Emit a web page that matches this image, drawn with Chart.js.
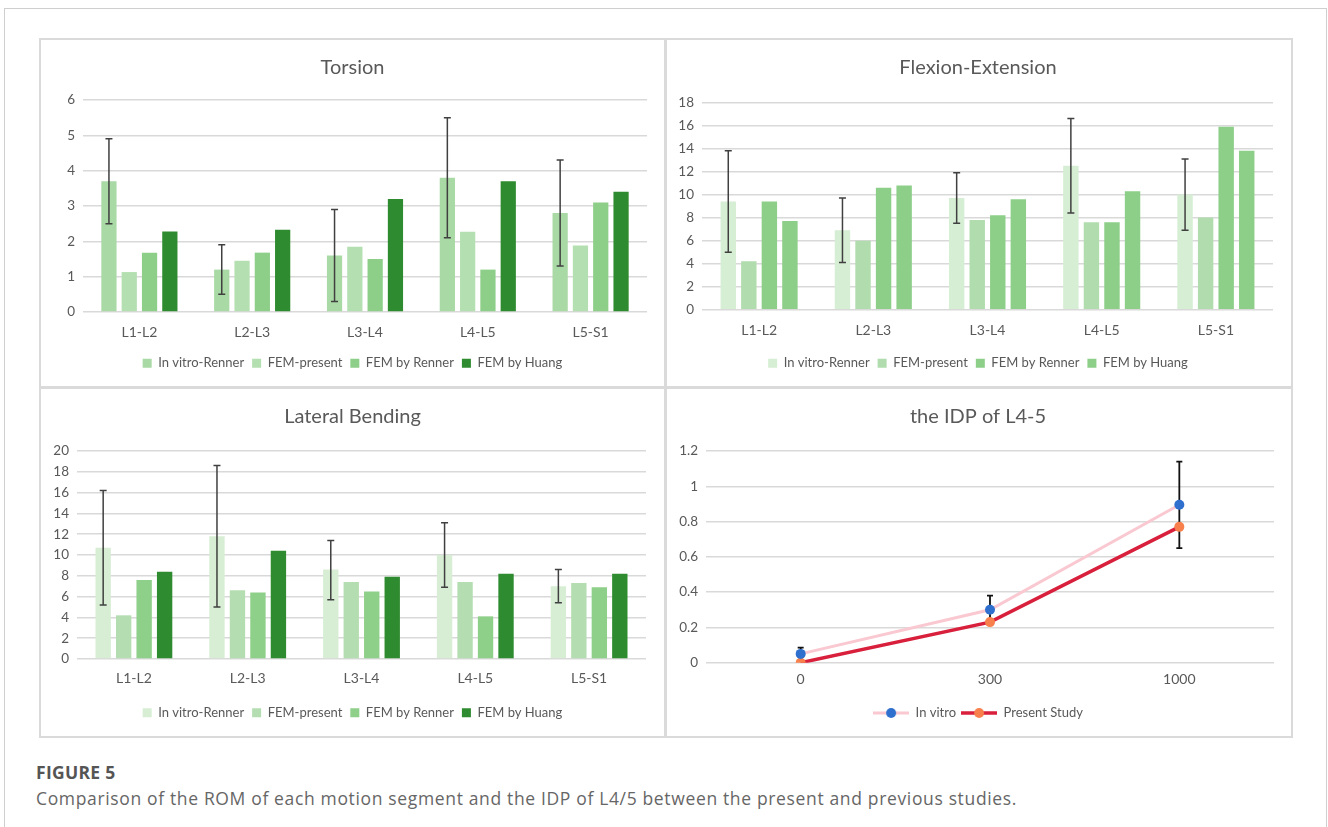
<!DOCTYPE html>
<html>
<head>
<meta charset="utf-8">
<script src="https://cdn.jsdelivr.net/npm/chart.js@4.4.1/dist/chart.umd.min.js"></script>
<style>
  html, body { margin: 0; padding: 0; background: #fff; width: 1328px; height: 827px; overflow: hidden; }
  .frame { position: absolute; left: 4px; top: 8px; width: 1323px; height: 900px; border: 1px solid #cfcfcf; box-sizing: border-box; }
  canvas { position: absolute; }
  .rule { position: absolute; background: #dadada; }
  .cap { position: absolute; left: 36px; font-family: "Open Sans", sans-serif; white-space: nowrap; }
  .cap.head { top: 760px; font-size: 17.5px; font-weight: 700; color: #555; line-height: 24px; letter-spacing: 0.3px; }
  .cap.body { top: 786px; font-size: 17.5px; color: #666; line-height: 24px; letter-spacing: 0.65px; }
</style>
</head>
<body>
<div class="frame"></div>

<canvas id="torsion" width="625" height="348" style="left:40px;top:39px"></canvas>
<canvas id="flexion" width="626" height="348" style="left:665px;top:39px"></canvas>
<canvas id="lateral" width="625" height="350" style="left:40px;top:387px"></canvas>
<canvas id="idp" width="626" height="350" style="left:665px;top:387px"></canvas>

<!-- panel frame and dividers -->
<div class="rule" style="left:39px;top:38px;width:1254px;height:2px"></div>
<div class="rule" style="left:39px;top:736px;width:1254px;height:2px"></div>
<div class="rule" style="left:39px;top:38px;width:2px;height:700px"></div>
<div class="rule" style="left:1291px;top:38px;width:2px;height:700px"></div>
<div class="rule" style="left:664px;top:38px;width:3px;height:700px"></div>
<div class="rule" style="left:39px;top:386px;width:1254px;height:3px"></div>

<div class="cap head">FIGURE 5</div>
<div class="cap body">Comparison of the ROM of each motion segment and the IDP of L4/5 between the present and previous studies.</div>

<script>
// Motion segments and series
const segments = ['L1-L2', 'L2-L3', 'L3-L4', 'L4-L5', 'L5-S1'];
const seriesNames = ['In vitro-Renner', 'FEM-present', 'FEM by Renner', 'FEM by Huang'];

// Torsion ROM
const torsionInVitro   = [3.7, 1.2, 1.6, 3.8, 2.8];
const torsionFemPresent = [1.13, 1.45, 1.85, 2.27, 1.88];
const torsionFemRenner = [1.68, 1.68, 1.5, 1.2, 3.1];
const torsionFemHuang  = [2.28, 2.33, 3.2, 3.7, 3.4];
const torsionErrLow    = [2.5, 0.5, 0.3, 2.1, 1.3];
const torsionErrHigh   = [4.9, 1.9, 2.9, 5.5, 4.3];

// Flexion-extension ROM
const flexionInVitro   = [9.4, 6.9, 9.7, 12.5, 10.0];
const flexionFemPresent = [4.2, 6.0, 7.8, 7.6, 8.0];
const flexionFemRenner = [9.4, 10.6, 8.2, 7.6, 15.9];
const flexionFemHuang  = [7.7, 10.8, 9.6, 10.3, 13.8];
const flexionErrLow    = [5.0, 4.1, 7.5, 8.4, 6.9];
const flexionErrHigh   = [13.8, 9.7, 11.9, 16.6, 13.1];

// Lateral bending ROM
const lateralInVitro   = [10.7, 11.8, 8.6, 10.0, 7.0];
const lateralFemPresent = [4.2, 6.6, 7.4, 7.4, 7.3];
const lateralFemRenner = [7.6, 6.4, 6.5, 4.1, 6.9];
const lateralFemHuang  = [8.4, 10.4, 7.9, 8.2, 8.2];
const lateralErrLow    = [5.2, 5.0, 5.7, 6.9, 5.4];
const lateralErrHigh   = [16.2, 18.6, 11.4, 13.1, 8.6];

// Intradiscal pressure of L4-5
const loads = ['0', '300', '1000'];
const idpNames = ['In vitro', 'Present Study'];
const idpInVitro = [0.05, 0.30, 0.895];
const idpPresent = [0, 0.23, 0.77];
const idpInVitroSd = [0.035, 0.08, 0.245];

const TEXT = '#595959';
const GRID = '#d9d9d9';
Chart.defaults.font.family = 'Lato, "Open Sans", sans-serif';
Chart.defaults.color = TEXT;
Chart.defaults.animation = false;

// Vertical error bars on one dataset, from low/high values through the y scale
function drawErrorBars(chart, opts) {
  if (!opts || !opts.low) return;
  const meta = chart.getDatasetMeta(opts.datasetIndex || 0);
  const y = chart.scales.y;
  const ctx = chart.ctx;
  ctx.save();
  ctx.strokeStyle = opts.color;
  ctx.lineWidth = opts.width;
  meta.data.forEach((el, i) => {
    const x = el.x;
    const yl = y.getPixelForValue(opts.low[i]);
    const yh = y.getPixelForValue(opts.high[i]);
    ctx.beginPath();
    ctx.moveTo(x, yl); ctx.lineTo(x, yh);
    ctx.moveTo(x - opts.cap, yl); ctx.lineTo(x + opts.cap, yl);
    ctx.moveTo(x - opts.cap, yh); ctx.lineTo(x + opts.cap, yh);
    ctx.stroke();
  });
  ctx.restore();
}
Chart.register({
  id: 'errorBars',
  beforeDatasetsDraw(chart, args, opts) { if (opts && opts.under) drawErrorBars(chart, opts); },
  afterDatasetsDraw(chart, args, opts) { if (opts && !opts.under) drawErrorBars(chart, opts); }
});

// Empty right-hand axis that only reserves space, so title and legend stay centred on the panel
function spacerAxis(width) {
  return {
    type: 'linear', position: 'right', display: true,
    grid: { display: false }, border: { display: false }, ticks: { display: false },
    afterFit: s => { s.width = width; }
  };
}

function barChart(id, title, series, colors, errLow, errHigh, yMax, yStep, L) {
  return new Chart(document.getElementById(id), {
    type: 'bar',
    data: {
      labels: segments,
      datasets: series.map((vals, i) => ({
        label: seriesNames[i],
        data: vals,
        backgroundColor: colors[i],
        borderWidth: 0,
        categoryPercentage: 0.72,
        barPercentage: 0.75
      }))
    },
    options: {
      responsive: false,
      layout: { padding: { left: 0, right: 0, top: 0, bottom: L.legendBottom } },
      plugins: {
        title: {
          display: true, text: title, color: TEXT,
          font: { size: 20, weight: 'normal' },
          padding: { top: L.titleTop, bottom: L.titleBottom }
        },
        legend: {
          position: 'bottom',
          labels: { boxWidth: 9, boxHeight: 9, padding: 8, color: TEXT, font: { size: 13 } }
        },
        tooltip: { enabled: false },
        errorBars: { low: errLow, high: errHigh, color: '#404040', width: 1.5, cap: 3.5 }
      },
      scales: {
        x: {
          grid: { display: false },
          border: { display: false },
          ticks: { padding: L.xPad, font: { size: 14 }, color: TEXT },
          afterFit: s => { s.height = L.xHeight; }
        },
        y: {
          min: 0, max: yMax,
          grid: { color: GRID, lineWidth: 1.5, drawTicks: false },
          border: { display: false },
          ticks: { stepSize: yStep, padding: 8, font: { size: 13.5 }, color: TEXT },
          afterFit: s => { s.width = L.yWidth; }
        },
        pad: spacerAxis(L.right)
      }
    }
  });
}

barChart('torsion', 'Torsion',
  [torsionInVitro, torsionFemPresent, torsionFemRenner, torsionFemHuang],
  ['#a9d9a4', '#b4dfb1', '#8dce88', '#2e8b2f'],
  torsionErrLow, torsionErrHigh, 6, 1,
  { yWidth: 43, right: 18, titleTop: 17, titleBottom: 20, xHeight: 36.8, xPad: 4.5, legendBottom: 7.2 });

barChart('flexion', 'Flexion-Extension',
  [flexionInVitro, flexionFemPresent, flexionFemRenner, flexionFemHuang],
  ['#d6eed3', '#b1dcae', '#8dcf88', '#8dcf88'],
  flexionErrLow, flexionErrHigh, 18, 2,
  { yWidth: 37, right: 18, titleTop: 17, titleBottom: 22.5, xHeight: 39.1, xPad: 4, legendBottom: 7.2 });

barChart('lateral', 'Lateral Bending',
  [lateralInVitro, lateralFemPresent, lateralFemRenner, lateralFemHuang],
  ['#d7eed4', '#b4deb1', '#8ecf89', '#2e8b2f'],
  lateralErrLow, lateralErrHigh, 20, 2,
  { yWidth: 37, right: 19, titleTop: 17.7, titleBottom: 22.3, xHeight: 39.2, xPad: 3.5, legendBottom: 7.8 });

// Legend icons: a short line with a round marker in the middle
function lineIcon(lineColor, lineWidth, dotColor) {
  const c = document.createElement('canvas');
  c.width = 36; c.height = 12;
  const g = c.getContext('2d');
  g.strokeStyle = lineColor; g.lineWidth = lineWidth;
  g.beginPath(); g.moveTo(0, 6); g.lineTo(36, 6); g.stroke();
  g.fillStyle = dotColor;
  g.beginPath(); g.arc(18, 6, 5, 0, Math.PI * 2); g.fill();
  return c;
}
const idpStyles = [
  { line: '#f9c8d0', width: 3, dot: '#2f6fce' },
  { line: '#d81f3b', width: 3.5, dot: '#f7804c' }
];
const idpIcons = idpStyles.map(s => lineIcon(s.line, s.width, s.dot));

new Chart(document.getElementById('idp'), {
  type: 'line',
  data: {
    labels: loads,
    datasets: [idpInVitro, idpPresent].map((vals, i) => ({
      label: idpNames[i],
      data: vals,
      borderColor: idpStyles[i].line,
      borderWidth: idpStyles[i].width,
      pointBackgroundColor: idpStyles[i].dot,
      pointBorderWidth: 0,
      pointRadius: 5,
      tension: 0
    }))
  },
  options: {
    responsive: false,
    layout: { padding: { left: 0, right: 0, top: 0, bottom: 7.5 } },
    plugins: {
      title: {
        display: true, text: 'the IDP of L4-5', color: TEXT,
        font: { size: 20, weight: 'normal' },
        padding: { top: 17.7, bottom: 22.3 }
      },
      legend: {
        position: 'bottom',
        labels: {
          usePointStyle: true, pointStyleWidth: 36, boxHeight: 12, padding: 5,
          color: TEXT, font: { size: 13 },
          generateLabels: chart => Chart.defaults.plugins.legend.labels.generateLabels(chart)
            .map((item, i) => Object.assign(item, { pointStyle: idpIcons[i] }))
        }
      },
      tooltip: { enabled: false },
      errorBars: {
        under: true,
        low: idpInVitro.map((v, i) => v - idpInVitroSd[i]),
        high: idpInVitro.map((v, i) => v + idpInVitroSd[i]),
        color: '#111', width: 1.8, cap: 3
      }
    },
    scales: {
      x: {
        offset: true,
        grid: { display: false },
        border: { display: false },
        ticks: { padding: 0, font: { size: 14 }, color: TEXT },
        afterFit: s => { s.height = 38.8; }
      },
      y: {
        min: 0, max: 1.2,
        grid: { color: GRID, lineWidth: 1.5, drawTicks: false },
        border: { display: false },
        ticks: {
          stepSize: 0.2, padding: 8, font: { size: 13.5 }, color: TEXT,
          callback: v => String(Math.round(v * 10) / 10)
        },
        afterFit: s => { s.width = 41; }
      },
      pad: spacerAxis(17)
    }
  }
});
</script>
</body>
</html>
